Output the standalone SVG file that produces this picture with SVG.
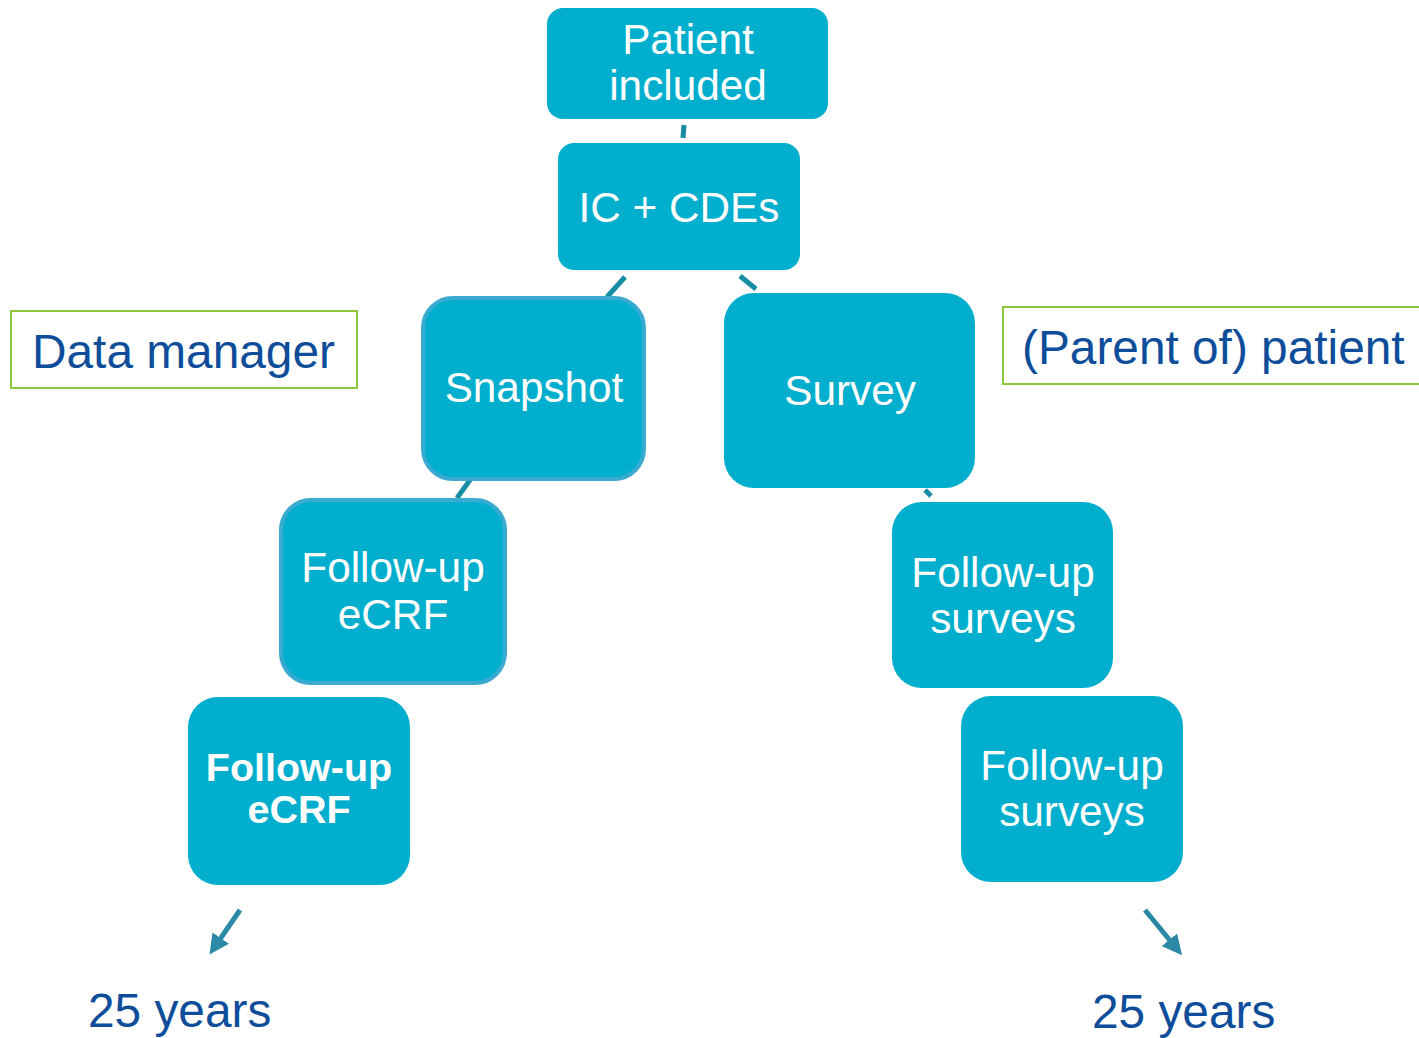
<svg xmlns="http://www.w3.org/2000/svg" width="1419" height="1038" viewBox="0 0 1419 1038">
<style>
.box{fill:#02aecd}
.bord{stroke:#3aaad0;stroke-width:4}
.t{fill:#fff;font-family:"Liberation Sans",Arial,sans-serif;font-size:42.3px;text-anchor:middle}
.b{font-weight:bold;font-size:39.5px}
.lbl{fill:#0d4d9a;font-family:"Liberation Sans",Arial,sans-serif;font-size:47.8px}
.frame{fill:#fff;stroke:#8cc63f;stroke-width:2}
.c{stroke:#178da3;stroke-width:5;fill:none}
.a{stroke:#2c89a5;stroke-width:5;fill:none;marker-end:url(#ah)}
</style>
<defs>
<marker id="ah" viewBox="0 0 10 10" refX="6" refY="5" markerWidth="4" markerHeight="4" orient="auto" markerUnits="strokeWidth">
<path d="M0,0 L10,5 L0,10 z" fill="#2c89a5"/>
</marker>
</defs>
<g id="connectors">
<line class="c" x1="684" y1="125" x2="683" y2="138"/>
<line class="c" x1="625" y1="277" x2="607" y2="297"/>
<line class="c" x1="740" y1="276" x2="756" y2="289"/>
<line class="c" x1="470" y1="480" x2="457" y2="498"/>
<line class="c" x1="925" y1="490" x2="931" y2="496"/>
<line class="a" x1="240" y1="910" x2="214" y2="948"/>
<line class="a" x1="1145" y1="910" x2="1177" y2="949"/>
</g>
<g id="n-patient">
<rect class="box" x="547" y="8" width="281" height="111" rx="16"/>
<text class="t" x="688" y="54">Patient</text>
<text class="t" x="688" y="100">included</text>
</g>
<g id="n-ic">
<rect class="box" x="558" y="143" width="242" height="127" rx="16"/>
<text class="t" x="679" y="222">IC + CDEs</text>
</g>
<g id="n-snapshot">
<rect class="box bord" x="423" y="298" width="221" height="181" rx="30"/>
<text class="t" x="534" y="402">Snapshot</text>
</g>
<g id="n-survey">
<rect class="box" x="724" y="293" width="251" height="195" rx="30"/>
<text class="t" x="850" y="405">Survey</text>
</g>
<g id="n-fu-ecrf1">
<rect class="box bord" x="281" y="500" width="224" height="183" rx="30"/>
<text class="t" x="393" y="582">Follow-up</text>
<text class="t" x="393" y="629">eCRF</text>
</g>
<g id="n-fu-ecrf2">
<rect class="box" x="188" y="697" width="222" height="188" rx="30"/>
<text class="t b" x="299" y="781">Follow-up</text>
<text class="t b" x="299" y="823">eCRF</text>
</g>
<g id="n-fu-surv1">
<rect class="box" x="892" y="502" width="221" height="186" rx="30"/>
<text class="t" x="1003" y="587">Follow-up</text>
<text class="t" x="1003" y="633">surveys</text>
</g>
<g id="n-fu-surv2">
<rect class="box" x="961" y="696" width="222" height="186" rx="30"/>
<text class="t" x="1072" y="780">Follow-up</text>
<text class="t" x="1072" y="826">surveys</text>
</g>
<g id="l-dm">
<rect class="frame" x="11" y="311" width="346" height="77"/>
<text class="lbl" x="32" y="368">Data manager</text>
</g>
<g id="l-parent">
<rect class="frame" x="1003" y="307" width="420" height="77"/>
<text class="lbl" x="1022" y="364">(Parent of) patient</text>
</g>
<g id="l-25a">
<text class="lbl" x="88" y="1027">25 years</text>
</g>
<g id="l-25b">
<text class="lbl" x="1092" y="1028">25 years</text>
</g>
</svg>
